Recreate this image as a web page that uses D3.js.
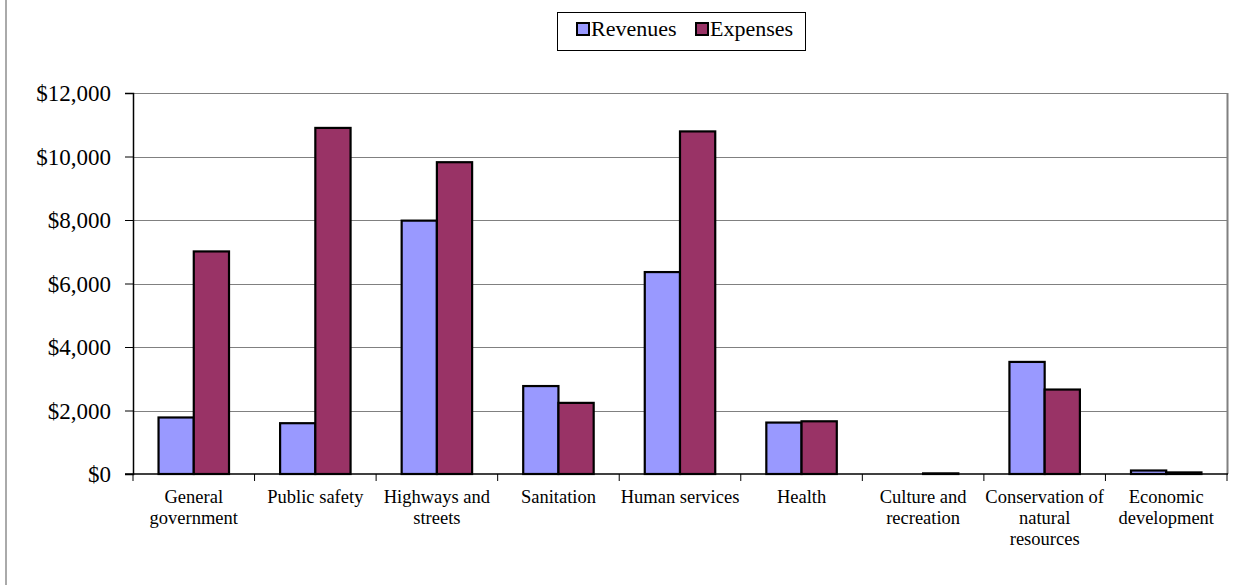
<!DOCTYPE html>
<html>
<head>
<meta charset="utf-8">
<script src="https://cdn.jsdelivr.net/npm/d3@7"></script>
<style>
  body { margin: 0; background: #fff; }
  text { font-family: "Liberation Serif", "Times New Roman", serif; fill: #000; }
</style>
</head>
<body>
<script>
const categories = [
  ['General', 'government'],
  ['Public safety'],
  ['Highways and', 'streets'],
  ['Sanitation'],
  ['Human services'],
  ['Health'],
  ['Culture and', 'recreation'],
  ['Conservation of', 'natural', 'resources'],
  ['Economic', 'development']
]
const seriesNames = ['Revenues', 'Expenses']
const revenues = [1780, 1600, 7980, 2770, 6360, 1620, 0, 3530, 110]
const expenses = [7010, 10900, 9820, 2240, 10790, 1660, 20, 2660, 50]
const yTicks = [0, 2000, 4000, 6000, 8000, 10000, 12000]
const colors = ['#9999FF', '#993366']

const w = 1251
const h = 585
const margin = { left: 133, right: 24, top: 93, bottom: 111 }

const svg = d3.select('body').append('svg')
  .attr('width', w)
  .attr('height', h)

// outer chart border (only left edge visible)
svg.append('line')
  .attr('x1', 6).attr('x2', 6)
  .attr('y1', 0).attr('y2', h)
  .attr('stroke', '#aaa')
  .attr('stroke-width', 2)

const catKeys = categories.map(c => c.join(' '))

const x0 = d3.scaleBand()
  .domain(catKeys)
  .range([margin.left, w - margin.right])
  .paddingInner(0)
  .paddingOuter(0)

const x1 = d3.scaleBand()
  .domain(seriesNames)
  .range([0, x0.bandwidth()])
  .paddingInner(0)
  .paddingOuter(0.725)

const y = d3.scaleLinear()
  .domain([0, 12000])
  .range([h - margin.bottom, margin.top])

const plotRight = w - margin.right

// gridlines
svg.append('g')
  .selectAll('line')
  .data(yTicks.filter(d => d > 0))
  .enter()
  .append('line')
    .attr('x1', margin.left)
    .attr('x2', plotRight)
    .attr('y1', d => Math.round(y(d)) + 0.5)
    .attr('y2', d => Math.round(y(d)) + 0.5)
    .attr('stroke', '#808080')
    .attr('stroke-width', 1)

// right edge of plot area
svg.append('line')
  .attr('x1', plotRight + 0.5).attr('x2', plotRight + 0.5)
  .attr('y1', y(12000)).attr('y2', y(0))
  .attr('stroke', '#808080')
  .attr('stroke-width', 2)

// bars
const table = catKeys.map((k, i) => ({ key: k, values: [revenues[i], expenses[i]] }))

const groups = svg.append('g')
  .selectAll('g')
  .data(table)
  .enter()
  .append('g')
    .attr('transform', d => `translate(${x0(d.key)},0)`)

groups.selectAll('rect')
  .data(d => d.values.map((v, i) => ({ name: seriesNames[i], value: v, i })).filter(b => b.value > 0))
  .enter()
  .append('rect')
    .attr('x', d => x1(d.name))
    .attr('y', d => y(d.value))
    .attr('width', x1.bandwidth())
    .attr('height', d => y(0) - y(d.value))
    .attr('fill', d => colors[d.i])
    .attr('stroke', '#000')
    .attr('stroke-width', 2.2)

// y axis
const yAxis = svg.append('g')
  .attr('transform', `translate(${margin.left},0)`)
  .call(d3.axisLeft(y)
    .tickValues(yTicks)
    .tickSize(8)
    .tickPadding(14)
    .tickFormat(d => '$' + d3.format(',')(d)))
yAxis.select('.domain').attr('stroke', '#000').attr('stroke-width', 1.5)
yAxis.selectAll('.tick line').attr('stroke', '#000')
yAxis.selectAll('.tick text')
  .style('font-family', '"Liberation Serif", serif')
  .style('font-size', '23px')
  .attr('dy', '0.34em')

// x axis
const xAxisG = svg.append('g')
  .attr('transform', `translate(0,${y(0)})`)
xAxisG.append('line')
  .attr('x1', margin.left - 8).attr('x2', plotRight + 1)
  .attr('y1', 0).attr('y2', 0)
  .attr('stroke', '#000')
  .attr('stroke-width', 1.5)
xAxisG.selectAll('.tk')
  .data(catKeys.concat(['end']))
  .enter()
  .append('line')
    .attr('x1', d => d === 'end' ? plotRight : x0(d))
    .attr('x2', d => d === 'end' ? plotRight : x0(d))
    .attr('y1', 0).attr('y2', 7)
    .attr('stroke', '#000')

xAxisG.selectAll('.lbl')
  .data(categories)
  .enter()
  .append('text')
    .attr('text-anchor', 'middle')
    .style('font-size', '18.5px')
    .attr('transform', (d, i) => `translate(${x0(catKeys[i]) + x0.bandwidth() / 2},29)`)
    .each(function(d) {
      d3.select(this).selectAll('tspan')
        .data(d)
        .enter()
        .append('tspan')
          .attr('x', 0)
          .attr('y', (t, j) => j * 21)
          .text(t => t)
    })

// legend
const legend = svg.append('g')
legend.append('rect')
  .attr('x', 557.5).attr('y', 12.5)
  .attr('width', 248).attr('height', 38)
  .attr('fill', '#fff')
  .attr('stroke', '#000')
  .attr('stroke-width', 1)

const legendX = [577, 696]
const items = legend.selectAll('.item')
  .data(seriesNames)
  .enter()
  .append('g')
    .attr('transform', (d, i) => `translate(${legendX[i]},0)`)
items.append('rect')
  .attr('x', 0).attr('y', 23)
  .attr('width', 12).attr('height', 12)
  .attr('fill', (d, i) => colors[i])
  .attr('stroke', '#000')
  .attr('stroke-width', 2)
items.append('text')
  .attr('x', 14).attr('y', 36)
  .style('font-size', '22px')
  .text(d => d)
</script>
</body>
</html>
